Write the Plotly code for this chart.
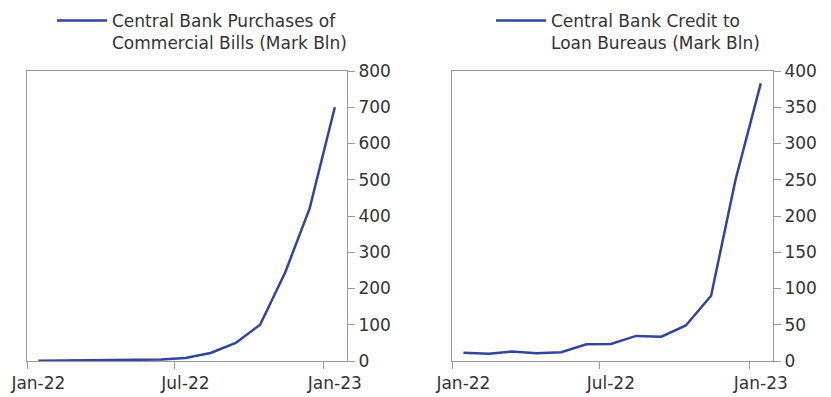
import plotly.graph_objects as go

months = ["2022-01-15", "2022-02-15", "2022-03-15", "2022-04-15", "2022-05-15", "2022-06-15",
          "2022-07-15", "2022-08-15", "2022-09-15", "2022-10-15", "2022-11-15", "2022-12-15",
          "2023-01-15"]
bills = [1, 1.2, 1.5, 2, 3, 4, 8, 22, 50, 100, 245, 421, 700]
loan_bureaus = [11.5, 10, 13, 10.6, 12, 23, 23.5, 34.6, 33.6, 49, 90, 250, 383]

# tick labels sit mid-month, tick marks at the month start
label_vals = ["2022-01-15", "2022-07-15", "2023-01-15"]
label_text = ["Jan-22", "Jul-22", "Jan-23"]

name_left = "Central Bank Purchases of<br>Commercial Bills (Mark Bln)"
name_right = "Central Bank Credit to<br>Loan Bureaus (Mark Bln)"

LINE = "#2f45a0"
AX = "#9a9a9a"
TXT = "#333333"
FONT = "DejaVu Sans"

fig = go.Figure()
fig.add_trace(go.Scatter(x=months, y=bills, mode="lines", name=name_left,
                         line=dict(color=LINE, width=2.5), xaxis="x", yaxis="y",
                         legend="legend"))
fig.add_trace(go.Scatter(x=months, y=loan_bureaus, mode="lines", name=name_right,
                         line=dict(color=LINE, width=2.5), xaxis="x2", yaxis="y2",
                         legend="legend2"))

W, H = 831, 397


def px_x(p):
    return p / W


def px_y(p):
    return 1 - p / H


xcommon = dict(type="date", range=["2022-01-01", "2023-01-30"],
               tickmode="array", tickvals=label_vals, ticktext=label_text,
               ticks="outside", ticklen=0, tickcolor="rgba(0,0,0,0)",
               minor=dict(tick0="2022-01-01", dtick="M6", ticks="outside", ticklen=7,
                          tickcolor=AX, showgrid=False),
               showline=True, mirror=True, linecolor=AX, linewidth=1,
               showgrid=False, zeroline=False, automargin=False,
               ticklabeloverflow="allow", ticklabelstandoff=7,
               tickfont=dict(family=FONT, size=17, color=TXT))
ycommon = dict(side="right", showline=True, mirror=True, linecolor=AX, linewidth=1,
               ticks="outside", ticklen=7, tickcolor=AX, showgrid=False, zeroline=False,
               automargin=False, ticklabeloverflow="allow",
               tickfont=dict(family=FONT, size=17, color=TXT))

fig.update_layout(
    width=W, height=H,
    margin=dict(l=0, r=0, t=0, b=0, autoexpand=False),
    paper_bgcolor="white", plot_bgcolor="white",
    font=dict(family=FONT, size=17, color=TXT),
    xaxis=dict(domain=[px_x(27), px_x(347)], anchor="y", **xcommon),
    yaxis=dict(domain=[px_y(361), px_y(71)], anchor="x", range=[0, 800], dtick=100, **ycommon),
    xaxis2=dict(domain=[px_x(452), px_x(773)], anchor="y2", **xcommon),
    yaxis2=dict(domain=[px_y(361), px_y(71)], anchor="x2", range=[0, 400], dtick=50, **ycommon),
    legend=dict(x=px_x(52), y=px_y(3), xanchor="left", yanchor="top", valign="top",
                itemwidth=50,
                font=dict(family=FONT, size=17, color=TXT), bgcolor="rgba(0,0,0,0)"),
    legend2=dict(x=px_x(491), y=px_y(3), xanchor="left", yanchor="top", valign="top",
                 itemwidth=50,
                 font=dict(family=FONT, size=17, color=TXT), bgcolor="rgba(0,0,0,0)"),
    showlegend=True,
)

fig.write_html(
    "out.html",
    config={"displayModeBar": False},
    post_script="document.body.style.margin='0';document.body.style.overflow='hidden';",
)
